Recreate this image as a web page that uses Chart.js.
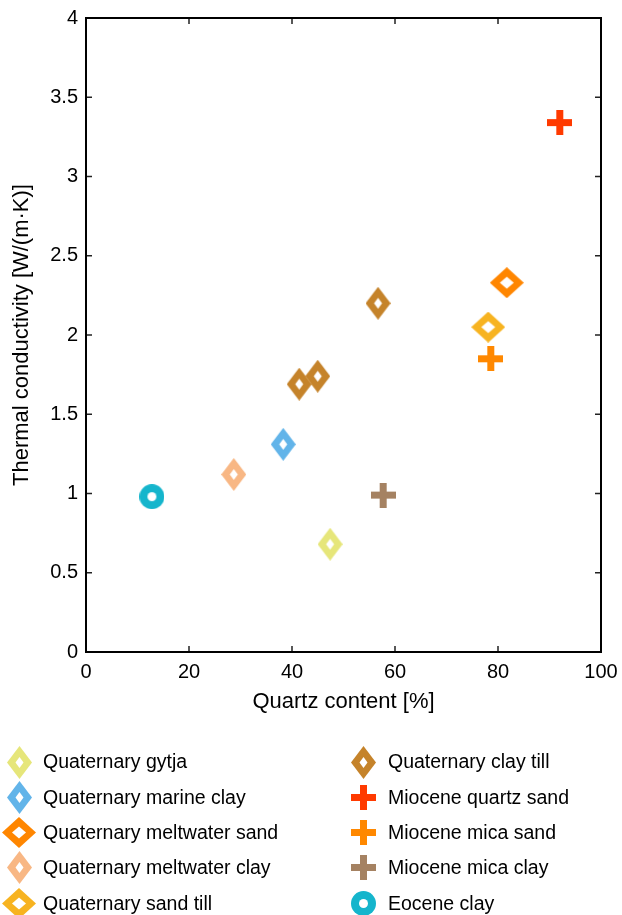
<!DOCTYPE html>
<html>
<head>
<meta charset="utf-8">
<script src="https://cdn.jsdelivr.net/npm/chart.js@4/dist/chart.umd.min.js"></script>
<style>
  html, body { margin: 0; padding: 0; background: #fff; }
  #wrap { width: 622px; height: 915px; }
</style>
</head>
<body>
<div id="wrap"><canvas id="chart" width="622" height="915"></canvas></div>
<script>
// series, in legend order (left column first, then right column)
const seriesLabels = [
  'Quaternary gytja',
  'Quaternary marine clay',
  'Quaternary meltwater sand',
  'Quaternary meltwater clay',
  'Quaternary sand till',
  'Quaternary clay till',
  'Miocene quartz sand',
  'Miocene mica sand',
  'Miocene mica clay',
  'Eocene clay',
];
// quartz content [%]
const quartzContent = [
  [47.4],
  [38.3],
  [81.7],
  [28.7],
  [78.1],
  [41.4, 45.0, 56.7],
  [92.0],
  [78.6],
  [57.7],
  [12.8],
];
// thermal conductivity [W/(m·K)]
const conductivity = [
  [0.68],
  [1.31],
  [2.33],
  [1.12],
  [2.05],
  [1.69, 1.74, 2.20],
  [3.34],
  [1.85],
  [0.99],
  [0.98],
];
const xTicks = [0, 20, 40, 60, 80, 100];
const yTicks = [0, 0.5, 1, 1.5, 2, 2.5, 3, 3.5, 4];

const seriesColors = [
  '#e6e67a', '#62b4e9', '#ff8600', '#f8b784', '#f7b320',
  '#c5832a', '#ff3a00', '#ff8800', '#a58262', '#15b5cc',
];
const markerKinds = [
  'tall', 'tall', 'wide', 'tall', 'wide',
  'tall', 'plus', 'plus', 'plus', 'ring',
];

const FONT = "'Liberation Sans', Arial, sans-serif";

function diamond(w, h, hw, hh, color) {
  const c = document.createElement('canvas');
  c.width = w; c.height = h;
  const g = c.getContext('2d');
  g.fillStyle = color;
  g.beginPath();
  g.moveTo(w / 2, 0); g.lineTo(w, h / 2); g.lineTo(w / 2, h); g.lineTo(0, h / 2);
  g.closePath();
  g.fill();
  g.fillStyle = '#fff';
  g.beginPath();
  g.moveTo(w / 2, (h - hh) / 2); g.lineTo((w + hw) / 2, h / 2);
  g.lineTo(w / 2, (h + hh) / 2); g.lineTo((w - hw) / 2, h / 2);
  g.closePath();
  g.fill();
  return c;
}

function plus(size, arm, color) {
  const c = document.createElement('canvas');
  c.width = size; c.height = size;
  const g = c.getContext('2d');
  g.fillStyle = color;
  g.fillRect((size - arm) / 2, 0, arm, size);
  g.fillRect(0, (size - arm) / 2, size, arm);
  return c;
}

function ring(d, hole, color) {
  const c = document.createElement('canvas');
  c.width = d; c.height = d;
  const g = c.getContext('2d');
  g.fillStyle = color;
  g.beginPath(); g.arc(d / 2, d / 2, d / 2, 0, Math.PI * 2); g.fill();
  g.fillStyle = '#fff';
  g.beginPath(); g.arc(d / 2, d / 2, hole / 2, 0, Math.PI * 2); g.fill();
  return c;
}

function makeMarker(kind, color) {
  if (kind === 'tall') return diamond(25, 33, 8, 11, color);
  if (kind === 'wide') return diamond(34, 31, 14, 12, color);
  if (kind === 'plus') return plus(25, 7, color);
  return ring(25, 9, color);
}

const markers = seriesLabels.map((_, i) => makeMarker(markerKinds[i], seriesColors[i]));

const datasets = seriesLabels.map((label, i) => ({
  label,
  data: quartzContent[i].map((x, j) => ({ x, y: conductivity[i][j] })),
  pointStyle: markers[i],
  backgroundColor: seriesColors[i],
  borderColor: seriesColors[i],
}));

// box around the plot + inward ticks on all four sides (matlab style)
const boxPlugin = {
  id: 'box',
  afterDraw(chart) {
    const { ctx, chartArea: a, scales } = chart;
    const tl = 6;
    ctx.save();
    ctx.strokeStyle = '#222';
    ctx.lineWidth = 1.5;
    ctx.beginPath();
    xTicks.forEach(v => {
      const px = scales.x.getPixelForValue(v);
      ctx.moveTo(px, a.bottom); ctx.lineTo(px, a.bottom - tl);
      ctx.moveTo(px, a.top); ctx.lineTo(px, a.top + tl);
    });
    yTicks.forEach(v => {
      const py = scales.y.getPixelForValue(v);
      ctx.moveTo(a.left, py); ctx.lineTo(a.left + tl, py);
      ctx.moveTo(a.right, py); ctx.lineTo(a.right - tl, py);
    });
    ctx.stroke();
    ctx.strokeStyle = '#000';
    ctx.lineWidth = 2;
    ctx.strokeRect(a.left, a.top, a.right - a.left, a.bottom - a.top);
    ctx.restore();
  },
};

// two-column legend under the axes
const legendPlugin = {
  id: 'colLegend',
  afterDraw(chart) {
    const { ctx } = chart;
    const cols = [{ mx: 19, tx: 43 }, { mx: 363, tx: 388 }];
    const rowY = 762, rowStep = 35.3;
    ctx.save();
    ctx.font = '19.5px ' + FONT;
    ctx.fillStyle = '#000';
    ctx.textBaseline = 'middle';
    chart.data.datasets.forEach((ds, i) => {
      const col = cols[Math.floor(i / 5)];
      const y = rowY + (i % 5) * rowStep;
      const m = ds.pointStyle;
      ctx.drawImage(m, Math.round(col.mx - m.width / 2), Math.round(y - m.height / 2));
      ctx.fillText(ds.label, col.tx, y + 1);
    });
    ctx.restore();
  },
};

new Chart(document.getElementById('chart'), {
  type: 'scatter',
  data: { datasets },
  options: {
    responsive: false,
    animation: false,
    layout: { padding: { left: 0, right: 21, top: 18, bottom: 0 } },
    plugins: { legend: { display: false }, tooltip: { enabled: false } },
    elements: { point: { radius: 12 } },
    scales: {
      x: {
        type: 'linear',
        min: 0,
        max: 100,
        afterBuildTicks: s => { s.ticks = xTicks.map(v => ({ value: v })); },
        afterFit: s => { s.height = 263; s.paddingLeft = 0; s.paddingRight = 0; },
        grid: { display: false, drawTicks: false },
        border: { display: false },
        ticks: { color: '#000', padding: 8, font: { family: FONT, size: 20 } },
        title: {
          display: true,
          text: 'Quartz content [%]',
          color: '#000',
          font: { family: FONT, size: 22 },
          padding: { top: 0, bottom: 200 },
        },
      },
      y: {
        type: 'linear',
        min: 0,
        max: 4,
        afterBuildTicks: s => { s.ticks = yTicks.map(v => ({ value: v })); },
        afterFit: s => { s.width = 86; s.paddingTop = 0; s.paddingBottom = 0; },
        grid: { display: false, drawTicks: false },
        border: { display: false },
        ticks: {
          color: '#000',
          padding: 8,
          font: { family: FONT, size: 20 },
          callback: v => String(+v.toFixed(2)),
        },
        title: {
          display: true,
          text: 'Thermal conductivity [W/(m·K)]',
          color: '#000',
          font: { family: FONT, size: 22 },
          padding: { top: 9, bottom: 0 },
        },
      },
    },
  },
  plugins: [boxPlugin, legendPlugin],
});
</script>
</body>
</html>
